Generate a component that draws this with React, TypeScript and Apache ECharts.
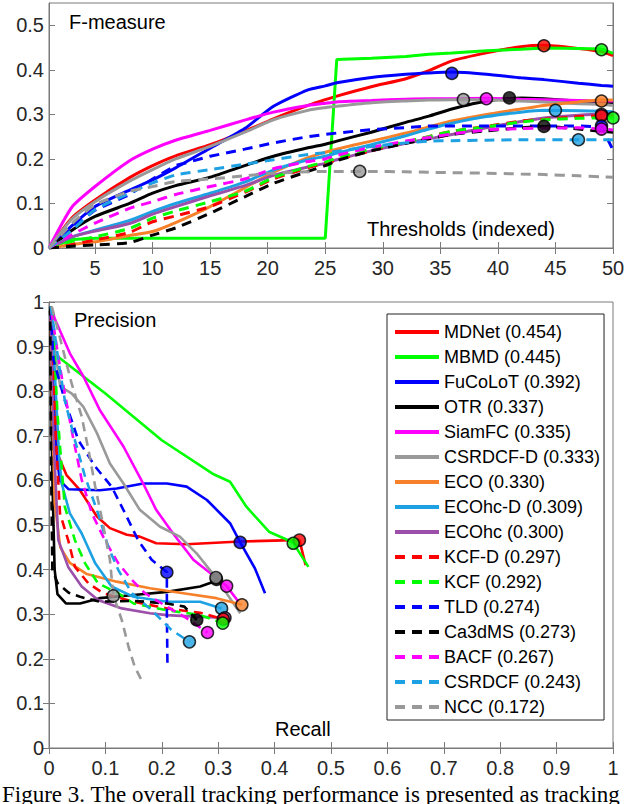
import React, { useEffect, useRef } from "react";
import * as echarts from "echarts";

const NAMES = [
  "MDNet (0.454)", "MBMD (0.445)", "FuCoLoT (0.392)", "OTR (0.337)", "SiamFC (0.335)",
  "CSRDCF-D (0.333)", "ECO (0.330)", "ECOhc-D (0.309)", "ECOhc (0.300)", "KCF-D (0.297)",
  "KCF (0.292)", "TLD (0.274)", "Ca3dMS (0.273)", "BACF (0.267)", "CSRDCF (0.243)", "NCC (0.172)",
];
const COLORS = [
  "#ff0000", "#00ff00", "#0000ff", "#000000", "#ff00ff", "#999999", "#f7812a", "#1ea1e3",
  "#9b4fa9", "#ff0000", "#00ff00", "#0000ff", "#000000", "#ff00ff", "#1ea1e3", "#999999",
];
const DASHED = [false, false, false, false, false, false, false, false, false, true, true, true, true, true, true, true];

// Top plot: F-measure vs threshold index
const T = [1, 3, 5, 8, 10, 12, 15, 18, 20.5, 23.5, 25, 26, 29, 32, 34, 36, 39, 42, 44, 47, 49, 50];
const F_MDNET = [0, 0.068, 0.108, 0.158, 0.185, 0.207, 0.232, 0.262, 0.29, 0.32, 0.333, 0.341, 0.362, 0.38, 0.398, 0.42, 0.438, 0.452, 0.455, 0.448, 0.441, 0.432];
const F_MBMD = [0, 0.019, 0.022, 0.022, 0.022, 0.022, 0.022, 0.022, 0.022, 0.022, 0.022, 0.423, 0.426, 0.43, 0.435, 0.438, 0.443, 0.446, 0.449, 0.448, 0.447, 0.437];
const F_FUCOLOT = [0, 0.05, 0.093, 0.13, 0.153, 0.18, 0.224, 0.268, 0.318, 0.355, 0.364, 0.371, 0.383, 0.39, 0.393, 0.395, 0.39, 0.382, 0.378, 0.37, 0.365, 0.363];
const F_OTR = [0, 0.04, 0.071, 0.1, 0.123, 0.14, 0.159, 0.185, 0.206, 0.225, 0.233, 0.24, 0.26, 0.282, 0.296, 0.312, 0.33, 0.337, 0.335, 0.33, 0.328, 0.326];
const F_SIAMFC = [0, 0.092, 0.138, 0.196, 0.222, 0.242, 0.264, 0.287, 0.305, 0.32, 0.325, 0.328, 0.331, 0.334, 0.335, 0.335, 0.336, 0.334, 0.333, 0.331, 0.33, 0.33];
const F_CSRDCFD = [0, 0.065, 0.104, 0.15, 0.176, 0.2, 0.228, 0.26, 0.288, 0.309, 0.315, 0.318, 0.326, 0.33, 0.332, 0.333, 0.333, 0.33, 0.328, 0.324, 0.322, 0.32];
const F_ECO = [0, 0.008, 0.014, 0.028, 0.037, 0.057, 0.093, 0.135, 0.17, 0.203, 0.215, 0.222, 0.24, 0.258, 0.272, 0.285, 0.3, 0.312, 0.32, 0.328, 0.333, 0.332];
const F_ECOHCD = [0, 0.025, 0.04, 0.062, 0.082, 0.1, 0.123, 0.148, 0.175, 0.198, 0.206, 0.213, 0.232, 0.252, 0.267, 0.28, 0.295, 0.305, 0.309, 0.308, 0.307, 0.306];
const F_ECOHC = [0, 0.025, 0.038, 0.055, 0.076, 0.093, 0.117, 0.14, 0.163, 0.182, 0.19, 0.198, 0.218, 0.235, 0.245, 0.255, 0.27, 0.284, 0.292, 0.298, 0.3, 0.3];
const F_KCFD = [0, 0.008, 0.018, 0.035, 0.059, 0.072, 0.093, 0.125, 0.155, 0.18, 0.19, 0.198, 0.218, 0.238, 0.25, 0.262, 0.273, 0.285, 0.289, 0.295, 0.297, 0.296];
const F_KCF = [0, 0.015, 0.025, 0.044, 0.067, 0.083, 0.104, 0.127, 0.158, 0.183, 0.193, 0.202, 0.222, 0.238, 0.25, 0.262, 0.272, 0.283, 0.288, 0.291, 0.292, 0.292];
const F_TLD = [0, 0.045, 0.085, 0.12, 0.155, 0.185, 0.206, 0.222, 0.236, 0.25, 0.255, 0.258, 0.266, 0.27, 0.274, 0.274, 0.274, 0.274, 0.274, 0.274, 0.272, 0.22];
const F_CA3DMS = [0, 0.004, 0.007, 0.012, 0.029, 0.045, 0.078, 0.115, 0.145, 0.172, 0.185, 0.196, 0.218, 0.235, 0.245, 0.255, 0.263, 0.27, 0.273, 0.267, 0.262, 0.26];
const F_BACF = [0, 0.03, 0.056, 0.089, 0.104, 0.12, 0.138, 0.155, 0.178, 0.194, 0.2, 0.208, 0.226, 0.24, 0.248, 0.256, 0.265, 0.268, 0.269, 0.27, 0.267, 0.265];
const F_CSRDCF = [0, 0.04, 0.086, 0.123, 0.146, 0.164, 0.176, 0.188, 0.198, 0.21, 0.214, 0.217, 0.228, 0.236, 0.24, 0.241, 0.242, 0.243, 0.243, 0.243, 0.243, 0.243];
const F_NCC = [0, 0.055, 0.097, 0.127, 0.138, 0.149, 0.155, 0.162, 0.168, 0.171, 0.172, 0.172, 0.172, 0.171, 0.17, 0.169, 0.168, 0.166, 0.165, 0.162, 0.16, 0.159];
const F_ALL = [F_MDNET, F_MBMD, F_FUCOLOT, F_OTR, F_SIAMFC, F_CSRDCFD, F_ECO, F_ECOHCD, F_ECOHC, F_KCFD, F_KCF, F_TLD, F_CA3DMS, F_BACF, F_CSRDCF, F_NCC];
const F_MAX_T = [44, 49, 36, 41, 39, 37, 49, 45, 49, 49, 50, 49, 44, 49, 47, 28];
const F_MAX = [0.454, 0.445, 0.392, 0.337, 0.335, 0.333, 0.330, 0.309, 0.300, 0.297, 0.292, 0.274, 0.273, 0.267, 0.243, 0.172];

// Bottom plot: precision vs recall, [recall, precision]
const PR_MDNET = [[0.002, 0.98], [0.008, 0.8], [0.015, 0.66], [0.031, 0.612], [0.055, 0.578], [0.085, 0.519], [0.108, 0.493], [0.138, 0.478], [0.161, 0.474], [0.19, 0.459], [0.244, 0.457], [0.339, 0.463], [0.433, 0.466], [0.444, 0.466], [0.455, 0.41]];
const PR_MBMD = [[0.002, 0.98], [0.008, 0.885], [0.1, 0.795], [0.2, 0.69], [0.29, 0.615], [0.321, 0.597], [0.35, 0.541], [0.39, 0.485], [0.42, 0.468], [0.433, 0.46], [0.46, 0.406]];
const PR_FUCOLOT = [[0.003, 0.97], [0.01, 0.7], [0.019, 0.6], [0.035, 0.58], [0.09, 0.578], [0.12, 0.582], [0.167, 0.593], [0.209, 0.593], [0.244, 0.586], [0.28, 0.556], [0.321, 0.504], [0.339, 0.461], [0.365, 0.403], [0.383, 0.347]];
const PR_OTR = [[0.002, 0.98], [0.006, 0.6], [0.01, 0.4], [0.015, 0.345], [0.03, 0.324], [0.055, 0.324], [0.09, 0.336], [0.15, 0.343], [0.209, 0.35], [0.268, 0.362], [0.297, 0.375]];
const PR_SIAMFC = [[0.003, 0.99], [0.011, 0.96], [0.037, 0.885], [0.061, 0.833], [0.09, 0.758], [0.132, 0.676], [0.167, 0.593], [0.19, 0.534], [0.22, 0.481], [0.256, 0.422], [0.315, 0.363], [0.336, 0.328]];
const PR_CSRDCFD = [[0.003, 0.99], [0.012, 0.88], [0.02, 0.81], [0.04, 0.795], [0.061, 0.765], [0.085, 0.706], [0.108, 0.638], [0.132, 0.593], [0.161, 0.534], [0.197, 0.496], [0.232, 0.474], [0.262, 0.436], [0.296, 0.382], [0.339, 0.302]];
const PR_ECO = [[0.003, 0.98], [0.005, 0.8], [0.01, 0.55], [0.02, 0.45], [0.037, 0.415], [0.067, 0.39], [0.12, 0.373], [0.179, 0.358], [0.238, 0.347], [0.297, 0.336], [0.342, 0.321]];
const PR_ECOHCD = [[0.005, 0.98], [0.012, 0.8], [0.018, 0.65], [0.0225, 0.593], [0.037, 0.526], [0.058, 0.481], [0.082, 0.414], [0.111, 0.362], [0.15, 0.339], [0.209, 0.328], [0.268, 0.328], [0.306, 0.313]];
const PR_ECOHC = [[0.003, 0.98], [0.008, 0.7], [0.0165, 0.466], [0.034, 0.406], [0.058, 0.362], [0.087, 0.332], [0.129, 0.313], [0.179, 0.302], [0.209, 0.298], [0.268, 0.294], [0.312, 0.292]];
const PR_KCFD = [[0.005, 0.98], [0.012, 0.7], [0.0195, 0.526], [0.034, 0.466], [0.046, 0.406], [0.07, 0.369], [0.096, 0.347], [0.15, 0.328], [0.209, 0.313], [0.268, 0.303], [0.309, 0.289]];
const PR_KCF = [[0.006, 0.98], [0.015, 0.75], [0.028, 0.541], [0.046, 0.466], [0.064, 0.414], [0.087, 0.369], [0.123, 0.347], [0.15, 0.324], [0.209, 0.309], [0.268, 0.298], [0.308, 0.28]];
const PR_TLD = [[0.003, 0.98], [0.008, 0.87], [0.028, 0.78], [0.052, 0.69], [0.082, 0.631], [0.111, 0.586], [0.135, 0.526], [0.158, 0.466], [0.182, 0.422], [0.209, 0.394], [0.209, 0.3], [0.21, 0.19]];
const PR_CA3DMS = [[0.002, 0.99], [0.004, 0.6], [0.006, 0.4], [0.015, 0.37], [0.035, 0.348], [0.055, 0.339], [0.09, 0.328], [0.15, 0.33], [0.209, 0.324], [0.24, 0.317], [0.262, 0.287]];
const PR_BACF = [[0.004, 0.98], [0.02, 0.85], [0.04, 0.713], [0.058, 0.601], [0.076, 0.526], [0.099, 0.466], [0.123, 0.414], [0.147, 0.377], [0.17, 0.347], [0.209, 0.317], [0.244, 0.291], [0.281, 0.259]];
const PR_CSRDCF = [[0.003, 0.99], [0.0077, 0.952], [0.0165, 0.87], [0.028, 0.78], [0.046, 0.69], [0.064, 0.608], [0.087, 0.526], [0.105, 0.451], [0.123, 0.399], [0.147, 0.347], [0.182, 0.309], [0.217, 0.265], [0.249, 0.238]];
const PR_NCC = [[0.005, 0.99], [0.022, 0.907], [0.04, 0.818], [0.058, 0.743], [0.07, 0.668], [0.082, 0.586], [0.093, 0.519], [0.108, 0.422], [0.114, 0.343], [0.129, 0.287], [0.141, 0.227], [0.152, 0.182], [0.165, 0.15]];
const PR_ALL = [PR_MDNET, PR_MBMD, PR_FUCOLOT, PR_OTR, PR_SIAMFC, PR_CSRDCFD, PR_ECO, PR_ECOHCD, PR_ECOHC, PR_KCFD, PR_KCF, PR_TLD, PR_CA3DMS, PR_BACF, PR_CSRDCF, PR_NCC];
const PR_MARK_R = [0.444, 0.433, 0.339, 0.297, 0.315, 0.296, 0.342, 0.306, 0.312, 0.309, 0.308, 0.209, 0.262, 0.281, 0.249, 0.114];
const PR_MARK_P = [0.466, 0.459, 0.461, 0.378, 0.363, 0.382, 0.321, 0.313, 0.292, 0.289, 0.28, 0.394, 0.287, 0.259, 0.238, 0.341];

const TOP_X_TICKS = [5, 10, 15, 20, 25, 30, 35, 40, 45, 50];
const TOP_Y_TICKS = [0, 0.1, 0.2, 0.3, 0.4, 0.5];
const CAPTION = "Figure 3. The overall tracking performance is presented as tracking";

const SANS = "Liberation Sans";
const AX = "#7a7a7a";
const LBL = "#262626";

export default function App() {
  const ref = useRef<HTMLDivElement>(null);
  useEffect(() => {
    if (!ref.current) return;
    const chart = echarts.init(ref.current, undefined, { renderer: "svg" });
    const tick = { show: true, inside: true, length: 6, lineStyle: { color: AX } };
    const axLine = { show: true, lineStyle: { color: AX, width: 1 } };
    const lbl = { fontSize: 20, fontFamily: SANS, color: LBL };

    const series: any[] = [];
    NAMES.forEach((n, i) => {
      series.push({
        type: "line", name: n, xAxisIndex: 0, yAxisIndex: 0, symbol: "none",
        smooth: i === 1 || i === 11 ? false : 0.2,
        data: T.map((t, k) => [t, F_ALL[i][k]]),
        lineStyle: { color: COLORS[i], width: 3, type: DASHED[i] ? [10, 7] : "solid" },
        itemStyle: { color: COLORS[i] },
      });
    });
    NAMES.forEach((n, i) => {
      series.push({
        type: "line", name: n, xAxisIndex: 2, yAxisIndex: 2, symbol: "none",
        data: PR_ALL[i],
        lineStyle: { color: COLORS[i], width: 2.6, type: DASHED[i] ? [9, 6] : "solid" },
        itemStyle: { color: COLORS[i] },
      });
    });
    series.push({
      type: "scatter", name: "fmax", xAxisIndex: 0, yAxisIndex: 0, symbolSize: 12, z: 5,
      data: NAMES.map((_, i) => ({ value: [F_MAX_T[i], F_MAX[i]], itemStyle: { color: COLORS[i], borderColor: "#000", borderWidth: 1.5 } })),
    });
    series.push({
      type: "scatter", name: "prmax", xAxisIndex: 2, yAxisIndex: 2, symbolSize: 12, z: 5,
      data: NAMES.map((_, i) => ({ value: [PR_MARK_R[i], PR_MARK_P[i]], itemStyle: { color: COLORS[i], borderColor: "#000", borderWidth: 1.5 } })),
    });

    chart.setOption({
      animation: false,
      backgroundColor: "#fff",
      grid: [
        { left: 49, top: 3, width: 564, height: 245, show: true, borderColor: AX, borderWidth: 1 },
        { left: 49, top: 302, width: 564, height: 446, show: true, borderColor: AX, borderWidth: 1 },
      ],
      xAxis: [
        { type: "value", gridIndex: 0, position: "bottom", min: 1, max: 50, axisLine: axLine,
          axisTick: { ...tick, customValues: TOP_X_TICKS }, axisLabel: { ...lbl, margin: 10, customValues: TOP_X_TICKS }, splitLine: { show: false } },
        { type: "value", gridIndex: 0, position: "top", min: 1, max: 50, axisLine: axLine,
          axisTick: { ...tick, customValues: TOP_X_TICKS }, axisLabel: { show: false }, splitLine: { show: false } },
        { type: "value", gridIndex: 1, position: "bottom", min: 0, max: 1, interval: 0.1, axisLine: axLine,
          axisTick: tick, axisLabel: { ...lbl, margin: 10 }, splitLine: { show: false } },
        { type: "value", gridIndex: 1, position: "top", min: 0, max: 1, interval: 0.1, axisLine: axLine,
          axisTick: tick, axisLabel: { show: false }, splitLine: { show: false } },
      ],
      yAxis: [
        { type: "value", gridIndex: 0, position: "left", min: 0, max: 0.55, axisLine: axLine,
          axisTick: { ...tick, customValues: TOP_Y_TICKS }, axisLabel: { ...lbl, margin: 5, customValues: TOP_Y_TICKS }, splitLine: { show: false } },
        { type: "value", gridIndex: 0, position: "right", min: 0, max: 0.55, axisLine: axLine,
          axisTick: { ...tick, customValues: TOP_Y_TICKS }, axisLabel: { show: false }, splitLine: { show: false } },
        { type: "value", gridIndex: 1, position: "left", min: 0, max: 1, interval: 0.1, axisLine: axLine,
          axisTick: tick, axisLabel: { ...lbl, margin: 5 }, splitLine: { show: false } },
        { type: "value", gridIndex: 1, position: "right", min: 0, max: 1, interval: 0.1, axisLine: axLine,
          axisTick: tick, axisLabel: { show: false }, splitLine: { show: false } },
      ],
      legend: {
        data: NAMES, orient: "vertical", left: 387, top: 314, itemWidth: 44, itemHeight: 14, itemGap: 5,
        padding: [8, 4, 3, 6], borderColor: "#222", borderWidth: 1, backgroundColor: "#fff",
        selectedMode: false, lineStyle: { width: 4 },
        itemStyle: { color: "rgba(0,0,0,0)", borderColor: "rgba(0,0,0,0)", borderWidth: 0, opacity: 0 },
        textStyle: { fontSize: 18, lineHeight: 20, fontFamily: SANS, color: "#000" },
      },
      graphic: [
        { type: "text", left: 69, top: 12, style: { text: "F-measure", fontSize: 20, fontFamily: SANS, fill: "#000" } },
        { type: "text", left: 367, top: 219, style: { text: "Thresholds (indexed)", fontSize: 20, fontFamily: SANS, fill: "#000" } },
        { type: "text", left: 74, top: 310, style: { text: "Precision", fontSize: 20, fontFamily: SANS, fill: "#000" } },
        { type: "text", left: 275, top: 719, style: { text: "Recall", fontSize: 20, fontFamily: SANS, fill: "#000" } },
        { type: "text", left: 2, top: 783, style: { text: CAPTION, fontSize: 23, fontFamily: "Liberation Serif", fill: "#000" } },
      ],
      series,
    });
    return () => chart.dispose();
  }, []);
  return <div ref={ref} style={{ position: "absolute", left: 0, top: 0, width: 640, height: 804 }} />;
}
